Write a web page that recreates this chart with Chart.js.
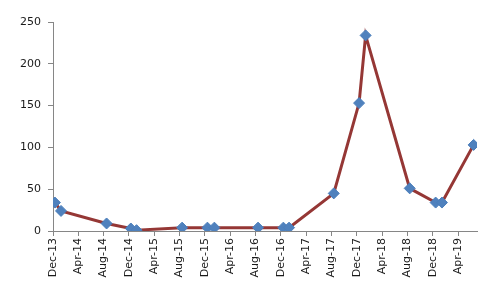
<!DOCTYPE html>
<html>
<head>
<meta charset="utf-8">
<script src="https://cdn.jsdelivr.net/npm/chart.js@4"></script>
<style>
  html, body { margin: 0; padding: 0; background: #fff; }
  #wrap { width: 499px; height: 300px; }
</style>
</head>
<body>
<div id="wrap"><canvas id="chart" width="499" height="300"></canvas></div>
<script>
// dates of the readings and their values
const dates = ['2013-12-10', '2014-01-09', '2014-08-15', '2014-12-10', '2015-01-07', '2015-08-13',
               '2015-12-13', '2016-01-16', '2016-08-13', '2016-12-13', '2017-01-10', '2017-08-12',
               '2017-12-12', '2018-01-13', '2018-08-12', '2018-12-15', '2019-01-15', '2019-06-15'];
const values = [34, 24, 9, 3, 1, 4, 4, 4, 4, 4, 4, 45, 153, 234, 51, 34, 34, 103];
const monthNames = ['Jan', 'Feb', 'Mar', 'Apr', 'May', 'Jun', 'Jul', 'Aug', 'Sep', 'Oct', 'Nov', 'Dec'];
const yTicks = [0, 50, 100, 150, 200, 250];

// months counted from 1 Dec 2013 (no date adapter, so a linear axis is used)
function monthsFromStart(s) {
  const p = s.split('-').map(Number);
  return (p[0] - 2013) * 12 + (p[1] - 12) + (p[2] - 1) / 30;
}

function monthLabel(v) {
  const d = new Date(2013, 11 + Math.round(v), 1);
  return monthNames[d.getMonth()] + '-' + String(d.getFullYear()).slice(2);
}

const points = dates.map((d, i) => ({ x: monthsFromStart(d), y: values[i] }));

Chart.defaults.font.family = '"DejaVu Sans", Verdana, sans-serif';
Chart.defaults.font.size = 11;
Chart.defaults.color = '#1a1a1a';

const ctx = document.getElementById('chart').getContext('2d');
const chart = new Chart(ctx, {
  type: 'line',
  data: {
    datasets: [{
      data: points,
      borderColor: '#953735',
      borderWidth: 3,
      tension: 0,
      pointStyle: 'rectRot',
      pointRadius: 5.5,
      pointBorderWidth: 1,
      pointBackgroundColor: '#4F81BD',
      pointBorderColor: '#4A7EBB'
    }]
  },
  options: {
    responsive: false,
    animation: false,
    events: [],
    layout: { padding: { left: 10, right: 22, top: 22, bottom: 0 } },
    plugins: { legend: { display: false }, tooltip: { enabled: false } },
    scales: {
      x: {
        type: 'linear',
        min: 0,
        max: 67,
        grid: { drawOnChartArea: false, drawTicks: true, tickLength: 5, color: '#868686' },
        border: { color: '#868686', width: 1 },
        ticks: {
          stepSize: 4,
          includeBounds: false,
          minRotation: 90,
          maxRotation: 90,
          padding: 2,
          callback: v => monthLabel(v)
        },
        afterFit: s => { s.height = 69; }
      },
      y: {
        min: 0,
        max: 250,
        grid: { drawOnChartArea: false, drawTicks: true, tickLength: 5, color: '#868686' },
        border: { color: '#868686', width: 1 },
        ticks: { stepSize: 50, padding: 7, callback: v => yTicks.includes(v) ? v : '' },
        afterFit: s => { s.width = 43; }
      }
    }
  }
});
</script>
</body>
</html>
